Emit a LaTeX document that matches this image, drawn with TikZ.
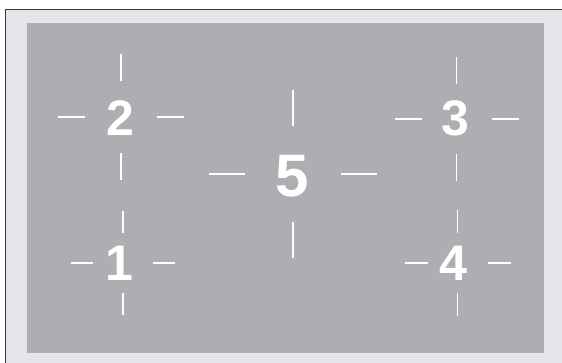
\documentclass[tikz,border=0pt]{standalone}
\usepackage{fontspec}
\setmainfont{Liberation Sans}
\usepackage{tikz}
\usetikzlibrary{positioning,calc}
\definecolor{panel}{HTML}{E4E4E9}
\definecolor{zone}{HTML}{AEADB1}
\definecolor{frame}{HTML}{3A3A3A}

\begin{document}
\begin{tikzpicture}[
  x=1pt,y=-1pt,
  num/.style={text=white,inner sep=0pt,font=\fontsize{50}{50}\selectfont\bfseries},
  bignum/.style={num,font=\fontsize{60}{60}\selectfont\bfseries},
  tick/.style={white,line width=1.5pt}
]
\useasboundingbox (0,0) rectangle (562,363);
\fill[panel] (5,9) rectangle (562,363);
\draw[frame,line width=1pt] (5.5,363) |- (562,9.5);
\fill[zone] (27,23) rectangle (544,353);
\node[num] (z2) at (120,118) {2};
\node[num] (z3) at (455,118) {3};
\node[num] (z1) at (119.5,263) {1};
\node[num] (z4) at (453,263) {4};
\node[bignum] (z5) at (292,176) {5};
% cross marks round each number (dx, dy: offset of the cross)
\foreach \z/\a/\b/\dx/\dy in {z1/30/52/3.5/0,z2/36/63/1/1,z3/35/62/1.5/-1,z4/30/53/4.5/0,z5/48/84/1/2}{
  \coordinate (c) at ([xshift=\dx pt,yshift=\dy pt]\z.center);
  \draw[tick] ([xshift=-\a pt]c) -- ([xshift=-\b pt]c);
  \draw[tick] ([xshift=\a pt]c) -- ([xshift=\b pt]c);
  \draw[tick] ([yshift=\a pt]c) -- ([yshift=\b pt]c);
  \draw[tick] ([yshift=-\a pt]c) -- ([yshift=-\b pt]c);
}
\end{tikzpicture}
\end{document}
